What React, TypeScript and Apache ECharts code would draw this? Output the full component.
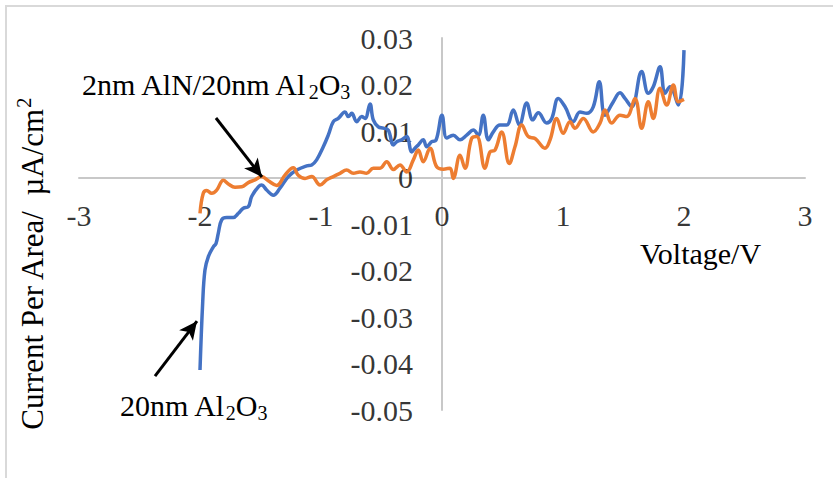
import React, { useEffect, useRef } from 'react';
import * as echarts from 'echarts';

// 20nm Al2O3 (blue)
const blueVoltage = [
  -2.0, -1.978, -1.959, -1.931, -1.89, -1.868, -1.849, -1.821, -1.779, -1.725,
  -1.683, -1.642, -1.601, -1.573, -1.518, -1.49, -1.449, -1.394, -1.339, -1.27,
  -1.201, -1.118, -1.077, -1.036, -0.981, -0.94, -0.898, -0.857, -0.802, -0.774,
  -0.746, -0.705, -0.664, -0.636, -0.595, -0.568, -0.526, -0.485, -0.444, -0.402,
  -0.374, -0.333, -0.292, -0.25, -0.223, -0.196, -0.155, -0.126, -0.085, -0.05,
  0.0, 0.039, 0.093, 0.149, 0.204, 0.259, 0.3, 0.341, 0.383, 0.424,
  0.479, 0.535, 0.589, 0.639, 0.7, 0.75, 0.796, 0.865, 0.907, 0.961,
  1.017, 1.085, 1.14, 1.196, 1.25, 1.3, 1.347, 1.416, 1.471, 1.512,
  1.568, 1.65, 1.705, 1.746, 1.802, 1.843, 1.884, 1.953, 2.0,
];
const blueCurrent = [
  -0.0414, -0.027, -0.0199, -0.017, -0.0149, -0.0142, -0.012, -0.0091, -0.0086, -0.0086,
  -0.0077, -0.0066, -0.0063, -0.0041, -0.002, -0.0016, -0.0027, -0.0038, -0.0023, 0.0002,
  0.0016, 0.0025, 0.0027, 0.0038, 0.0066, 0.0091, 0.012, 0.0127, 0.0141, 0.0131,
  0.0138, 0.012, 0.0131, 0.0127, 0.0158, 0.0124, 0.0109, 0.0106, 0.0102, 0.007,
  0.0077, 0.0081, 0.0088, 0.0055, 0.0063, 0.007, 0.0081, 0.0066, 0.0077, 0.008,
  0.0134, 0.0085, 0.0091, 0.0081, 0.0091, 0.0102, 0.0091, 0.0134, 0.0081, 0.0098,
  0.0113, 0.0113, 0.0145, 0.0113, 0.016, 0.0124, 0.0139, 0.0117, 0.0127, 0.017,
  0.0152, 0.012, 0.0141, 0.0138, 0.0152, 0.0206, 0.0134, 0.0163, 0.0182, 0.017,
  0.0152, 0.0228, 0.0181, 0.0195, 0.0238, 0.0181, 0.0195, 0.0156, 0.0274,
];

// 2nm AlN/20nm Al2O3 (orange)
const orangeVoltage = [
  -2.0, -1.973, -1.945, -1.903, -1.862, -1.807, -1.766, -1.711, -1.655, -1.601,
  -1.545, -1.49, -1.436, -1.366, -1.298, -1.229, -1.188, -1.132, -1.077, -1.008,
  -0.953, -0.898, -0.843, -0.788, -0.733, -0.678, -0.623, -0.568, -0.512, -0.457,
  -0.402, -0.347, -0.292, -0.237, -0.196, -0.155, -0.099, -0.044, 0.011, 0.066,
  0.093, 0.149, 0.19, 0.245, 0.287, 0.355, 0.397, 0.438, 0.493, 0.556,
  0.603, 0.659, 0.713, 0.769, 0.851, 0.893, 0.948, 1.002, 1.058, 1.099,
  1.168, 1.25, 1.306, 1.347, 1.402, 1.471, 1.526, 1.595, 1.65, 1.705,
  1.746, 1.802, 1.857, 1.912, 1.953, 2.0,
];
const orangeCurrent = [
  -0.0077, -0.0034, -0.0028, -0.0034, -0.0027, -0.0006, -0.0014, -0.0021, -0.002, -0.0011,
  -0.0005, 0.0002, -0.0007, -0.0017, 0.0005, 0.0021, 0.0005, -0.0002, 0.0002, -0.0016,
  -0.0005, 0.0002, 0.0009, 0.0016, 0.0009, 0.0012, 0.0009, 0.002, 0.002, 0.0034,
  0.0017, 0.0027, 0.0012, 0.0038, 0.0059, 0.0034, 0.0063, 0.0023, 0.0018, 0.002,
  -0.0002, 0.0048, 0.002, 0.0084, 0.0088, 0.002, 0.0055, 0.0059, 0.0098, 0.003,
  0.0066, 0.0113, 0.0088, 0.0084, 0.0063, 0.0081, 0.0127, 0.0095, 0.012, 0.0106,
  0.0127, 0.0098, 0.0117, 0.0145, 0.0117, 0.0134, 0.0131, 0.017, 0.0106, 0.0163,
  0.0127, 0.0192, 0.0156, 0.0199, 0.0163, 0.0168,
];

const xMin = -3;
const xMax = 3;
const xStep = 1;
const yMin = -0.05;
const yMax = 0.03;
const yStep = 0.01;

// tick labels (drawn at the zero lines, where the axes cross)
const xTickValues = [-3, -2, -1, 0, 1, 2, 3];
const yTickValues = [0.03, 0.02, 0.01, 0, -0.01, -0.02, -0.03, -0.04, -0.05];

// arrows [tail, head] in data coordinates
const arrowOrange = [[-1.868, 0.0128], [-1.488, 0.0001]];
const arrowBlue = [[-2.372, -0.0427], [-2.025, -0.0309]];

const FONT = "'Liberation Serif', 'Times New Roman', serif";
const FS = 30;
const SUB = 20;

export default function App() {
  const ref = useRef<HTMLDivElement>(null);
  useEffect(() => {
    if (!ref.current) return;
    const chart = echarts.init(ref.current, undefined, { renderer: 'svg' });
    const blueData = blueVoltage.map((v, i) => [v, blueCurrent[i]]);
    const orangeData = orangeVoltage.map((v, i) => [v, orangeCurrent[i]]);
    const axisColor = '#c8c8c8';
    const makeRich = (fs: number, sub: number) => ({
      m: { fontSize: fs, fontFamily: FONT, color: '#000', lineHeight: fs + 6, verticalAlign: 'middle' },
      s: { fontSize: sub, fontFamily: FONT, color: '#000', lineHeight: sub + 2, verticalAlign: 'bottom' },
      p: { fontSize: sub, fontFamily: FONT, color: '#000', lineHeight: sub + 2, verticalAlign: 'top' },
    });
    const mainRich = makeRich(FS, SUB);
    const titleRich = makeRich(31, 21);
    const arrowLine = (pts: number[][]) => [{ coord: pts[0] }, { coord: pts[1] }];
    const labelStyle = { color: '#000', fontSize: FS, fontFamily: FONT };
    chart.setOption({
      animation: false,
      backgroundColor: '#fff',
      grid: {
        left: 79,
        right: 28,
        top: 38,
        bottom: 68,
        containLabel: false,
        outerBoundsMode: 'none',
      },
      xAxis: {
        type: 'value',
        min: xMin,
        max: xMax,
        interval: xStep,
        axisLine: { show: true, onZero: true, lineStyle: { color: axisColor, width: 2 } },
        axisTick: { show: false },
        splitLine: { show: false },
        axisLabel: { show: false },
      },
      yAxis: {
        type: 'value',
        min: yMin,
        max: yMax,
        interval: yStep,
        axisLine: { show: true, onZero: true, lineStyle: { color: axisColor, width: 2 } },
        axisTick: { show: false },
        splitLine: { show: false },
        axisLabel: { show: false },
      },
      series: [
        {
          name: '20nm Al2O3',
          type: 'line',
          data: blueData,
          smooth: 0.4,
          showSymbol: false,
          lineStyle: { color: '#4472C4', width: 3.5 },
          itemStyle: { color: '#4472C4' },
          markLine: {
            silent: true,
            symbol: ['none', 'arrow'],
            symbolSize: [13, 18],
            label: { show: false },
            lineStyle: { color: '#000', width: 3, type: 'solid' },
            data: [arrowLine(arrowBlue), arrowLine(arrowOrange)],
          },
        },
        {
          name: '2nm AlN/20nm Al2O3',
          type: 'line',
          data: orangeData,
          smooth: 0.4,
          showSymbol: false,
          lineStyle: { color: '#ED7D31', width: 3.5 },
          itemStyle: { color: '#ED7D31' },
        },
        {
          name: 'xTicks',
          type: 'scatter',
          silent: true,
          clip: false,
          symbolSize: 0,
          itemStyle: { color: 'rgba(0,0,0,0)' },
          data: xTickValues.map((v) => [v, 0]),
          label: {
            show: true,
            position: 'bottom',
            distance: 23,
            ...labelStyle,
            formatter: (p: any) => String(p.value[0]),
          },
        },
        {
          name: 'yTicks',
          type: 'scatter',
          silent: true,
          clip: false,
          symbolSize: 0,
          itemStyle: { color: 'rgba(0,0,0,0)' },
          data: yTickValues.map((v) => [0, v]),
          label: {
            show: true,
            position: 'left',
            distance: 29,
            align: 'right',
            verticalAlign: 'middle',
            ...labelStyle,
            formatter: (p: any) => String(Math.round(p.value[1] * 100) / 100),
          },
        },
      ],
      graphic: [
        {
          type: 'rect',
          shape: { x: 6, y: 6, width: 860, height: 500 },
          style: { fill: 'none', stroke: '#d9d9d9', lineWidth: 2 },
          silent: true,
        },
        {
          type: 'text',
          x: 82,
          y: 84,
          style: {
            text: '{m|2nm AlN/20nm Al}{s|2}{m|O}{s|3}',
            align: 'left',
            verticalAlign: 'middle',
            rich: mainRich,
          },
        },
        {
          type: 'text',
          x: 120,
          y: 405,
          style: {
            text: '{m|20nm Al}{s|2}{m|O}{s|3}',
            align: 'left',
            verticalAlign: 'middle',
            rich: mainRich,
          },
        },
        {
          type: 'text',
          x: 640,
          y: 253,
          style: {
            text: 'Voltage/V',
            fill: '#000',
            fontSize: FS,
            fontFamily: FONT,
            align: 'left',
            verticalAlign: 'middle',
          },
        },
        {
          type: 'text',
          x: 32,
          y: 264,
          rotation: Math.PI / 2,
          style: {
            text: '{m|Current Per Area/  µA/cm}{p|2}',
            align: 'center',
            verticalAlign: 'middle',
            rich: titleRich,
          },
        },
      ],
    });
    return () => chart.dispose();
  }, []);
  return (
    <div
      ref={ref}
      style={{ position: 'fixed', left: 0, top: 0, width: 833, height: 478, background: '#fff' }}
    />
  );
}
